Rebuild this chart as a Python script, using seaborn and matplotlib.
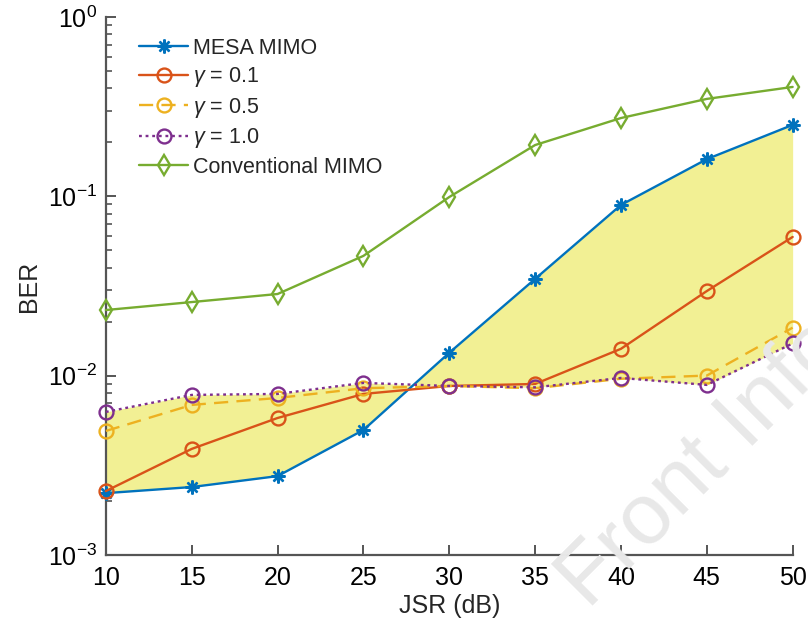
import numpy as np
import pandas as pd
import matplotlib
matplotlib.use('Agg')
import matplotlib.pyplot as plt
import seaborn as sns

# Data
jsr = [10, 15, 20, 25, 30, 35, 40, 45, 50]
mesa_mimo = [2.21e-3, 2.39e-3, 2.75e-3, 4.97e-3, 1.34e-2, 3.46e-2, 8.94e-2, 0.161, 0.250]
gamma_01 = [2.27e-3, 3.90e-3, 5.80e-3, 7.90e-3, 8.75e-3, 8.98e-3, 1.41e-2, 2.96e-2, 5.93e-2]
gamma_05 = [4.91e-3, 6.86e-3, 7.50e-3, 8.50e-3, 8.75e-3, 8.50e-3, 9.60e-3, 1.00e-2, 1.85e-2]
gamma_10 = [6.27e-3, 7.80e-3, 7.90e-3, 9.10e-3, 8.75e-3, 8.60e-3, 9.70e-3, 8.87e-3, 1.51e-2]
conventional = [2.32e-2, 2.57e-2, 2.85e-2, 4.65e-2, 9.90e-2, 0.193, 0.273, 0.349, 0.407]
xticks = [10, 15, 20, 25, 30, 35, 40, 45, 50]

sns.set_style('ticks')
plt.rcParams['font.family'] = ['Liberation Sans', 'DejaVu Sans']
plt.rcParams['mathtext.fontset'] = 'custom'
plt.rcParams['mathtext.rm'] = 'Liberation Sans'
plt.rcParams['mathtext.it'] = 'Liberation Sans:italic'

fig = plt.figure(figsize=(8.08, 6.27), dpi=100)
ax = fig.add_axes([0.131, 0.115, 0.850, 0.858])

# shaded region between MESA MIMO and gamma = 1.0
ax.fill_between(jsr, mesa_mimo, gamma_10, color='#f2f094', lw=0, zorder=1)

lw = 1.7
ms = 10
mew = 1.7
series = [
    (mesa_mimo, 'MESA MIMO', '#0072BD', (8, 2, 0), '-'),
    (gamma_01, r'$\it{\gamma}$ = 0.1', '#D95319', 'o', '-'),
    (gamma_05, r'$\it{\gamma}$ = 0.5', '#EDB120', 'o', (0, (6, 3.5))),
    (gamma_10, r'$\it{\gamma}$ = 1.0', '#7E2F8E', 'o', (0, (1.2, 1.6))),
    (conventional, 'Conventional MIMO', '#77AC30', 'd', '-'),
]
for y, label, color, marker, ls in series:
    sns.lineplot(x=jsr, y=y, ax=ax, label=label, color=color, marker=marker,
                 linestyle=ls, linewidth=lw, markersize=ms,
                 markerfacecolor='none', markeredgecolor=color,
                 markeredgewidth=mew, zorder=3, clip_on=False)

ax.set_yscale('log')
ax.set_xlim(10, 50)
ax.set_ylim(1e-3, 1)
ax.set_xticks(xticks)
ax.set_xlabel('JSR (dB)', fontsize=18, labelpad=3)
ax.set_ylabel('BER', fontsize=18, labelpad=5)

for side in ['top', 'right']:
    ax.spines[side].set_visible(False)
for side in ['left', 'bottom']:
    ax.spines[side].set_color('#555555')
    ax.spines[side].set_linewidth(1.6)
ax.tick_params(axis='both', which='major', direction='in', length=7, width=1.4,
               color='#555555', labelsize=18, labelcolor='black', pad=6)
ax.tick_params(axis='x', which='major', pad=8)
ax.tick_params(axis='y', which='minor', direction='in', length=4, width=1.2,
               color='#555555')

leg = ax.legend(loc='upper left', bbox_to_anchor=(0.03, 0.985), frameon=False,
                fontsize=15.5, handlelength=2.25, labelspacing=0.3,
                handletextpad=0.25, borderaxespad=0.2)

# watermark
fig.text(0.87, 0.26, 'Front Info', fontsize=62, color='#e8e8e8',
         rotation=45, ha='center', va='center', zorder=0)

fig.savefig('out.png', dpi=100)
